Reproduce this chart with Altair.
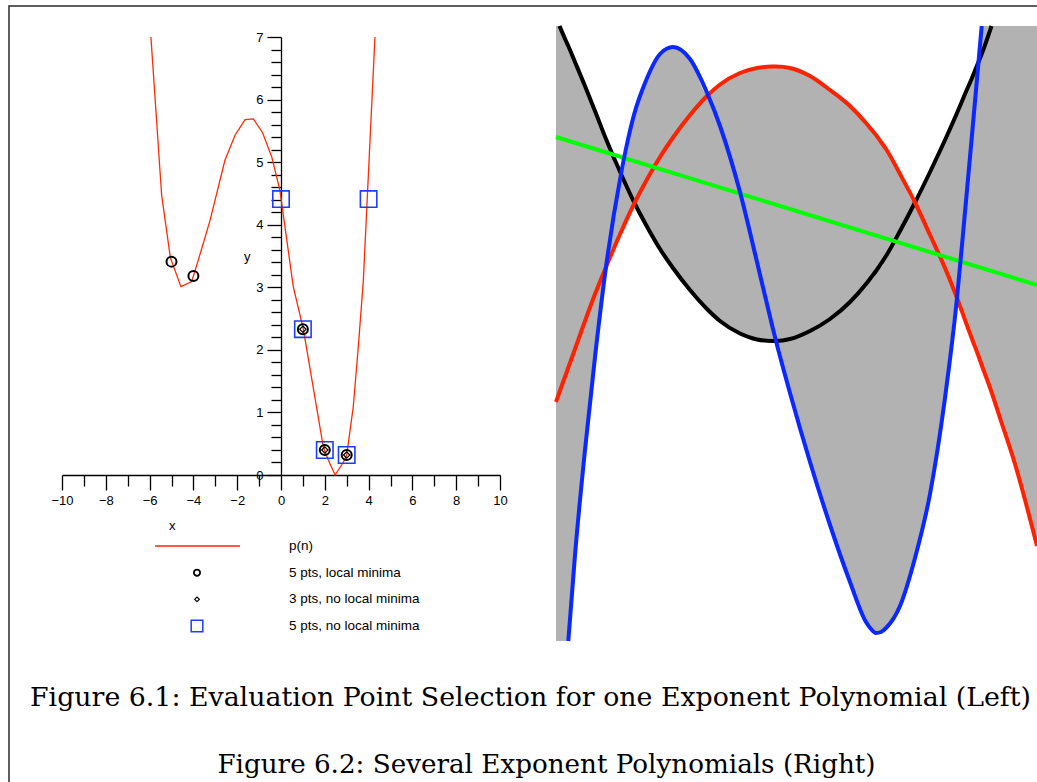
import altair as alt
import numpy as np
import pandas as pd

# ---------------- left panel: p(n) with the three evaluation-point sets ----------------
pn_x = [-5.94, -5.45, -5.05, -4.84, -4.57, -4.08, -3.78, -3.24, -2.56, -2.10, -1.64,
        -1.26, -0.84, -0.42, -0.05, 0.56, 1.02, 1.93, 2.16, 2.47, 2.84, 3.0, 3.30,
        3.53, 3.76, 4.29]
pn_y = [7.0, 4.47, 3.47, 3.27, 3.01, 3.09, 3.43, 4.07, 5.03, 5.43, 5.68,
        5.69, 5.47, 5.08, 4.55, 3.01, 2.33, 0.45, 0.24, 0.0, 0.20, 0.32, 1.09,
        2.05, 3.11, 7.0]

locmin_x = [-5, -4, 1, 2, 3]            # 5 pts, local minima
locmin_y = [3.41, 3.18, 2.33, 0.40, 0.32]
three_x = [1, 2, 3]                     # 3 pts, no local minima
three_y = [2.33, 0.40, 0.32]
five_x = [0, 1, 2, 3, 4]                # 5 pts, no local minima
five_y = [4.41, 2.33, 0.40, 0.32, 4.41]

x_ticks = list(range(-10, 11))
y_ticks = [round(i * 0.2, 1) for i in range(36)]

legend_labels = ["p(n)", "5 pts, local minima", "3 pts, no local minima",
                 "5 pts, no local minima"]

captions = ["Figure 6.1: Evaluation Point Selection for one Exponent Polynomial (Left)",
            "Figure 6.2: Several Exponent Polynomials (Right)"]

# ---------------- right panel: several exponent polynomials ----------------
curve_x = [0.0, 0.35, 1.0, 1.23, 1.9, 2.9, 3.9, 5.0, 6.5, 7.85, 8.9, 10.4, 11.7, 13.4,
           15.2, 16.4, 18.4, 20.1, 21.6, 22.0, 23.4, 25.4, 27.4, 29.4, 31.0, 31.5,
           32.0, 32.5, 33.0, 34.4, 35.9, 37.4, 38.9, 40.1, 40.9, 41.6, 42.25, 42.57,
           43.55, 44.4, 45.9, 48.1]
black_y = [62.3, 61.5, 60.0, 59.5, 57.9, 55.5, 53.0, 50.2, 46.7, 43.8, 41.8, 39.2,
           37.3, 35.1, 33.1, 32.0, 30.75, 30.15, 30.0, 30.0, 30.2, 31.0, 32.2, 33.9,
           35.7, 36.35, 37.0, 37.75, 38.5, 41.0, 43.85, 46.9, 50.1, 52.8, 54.7, 56.3,
           57.9, 58.7, 61.5, 63.9, 68.6, 75.6]
red_y = [23.9, 24.9, 26.7, 27.35, 29.2, 32.0, 34.7, 37.4, 40.9, 43.8, 45.8, 48.4,
         50.35, 52.6, 54.6, 55.65, 56.8, 57.3, 57.45, 57.45, 57.3, 56.5, 55.1, 53.5,
         51.8, 51.2, 50.6, 49.9, 49.2, 46.7, 43.85, 40.6, 37.3, 34.3, 32.1, 30.2,
         28.5, 27.6, 24.9, 22.3, 17.7, 9.5]
blue_y = [-11.9, -7.4, -2.4, 0.0, 8.6, 19.1, 28.4, 37.4, 46.7, 52.8, 55.8, 58.7,
          59.4, 58.2, 54.6, 51.5, 44.9, 37.9, 31.6, 30.0, 24.8, 17.9, 11.6, 5.9,
          1.9, 1.2, 0.8, 0.9, 1.3, 3.5, 8.3, 14.7, 24.3, 34.3, 42.9, 50.6, 57.9,
          61.5, 72.1, 82.1, 100.1, 124.1]
green_x = [0.0, 48.1]
green_y = [50.4, 35.6]

R_TOP = 61.5
R_RIGHT = 48.1

FONT = "Liberation Sans"

# ---------------- left panel scales and axes ----------------
LX = alt.Scale(domain=[-10, 10], range=[62, 500], nice=False, zero=False)
LY = alt.Scale(domain=[0, 7], range=[475, 37], nice=False, zero=False)

axis_x = alt.Axis(
    orient="bottom", offset=-307, values=x_ticks,
    tickSize={"condition": {"test": "datum.value % 2 === 0", "value": 15}, "value": 11},
    labelExpr="datum.value % 2 === 0 ? datum.label : ''",
    labelPadding=4, labelFont=FONT, labelFontSize=13, labelColor="black",
    labelFlush=False, labelOverlap=False, labelBound=False,
    domainColor="black", domainWidth=1.3, tickColor="black", tickWidth=1.3,
    grid=False, title="x", titleFont=FONT, titleFontSize=13,
    titleFontWeight="normal", titleColor="black", titleX=171.7, titleY=50,
    titleBaseline="middle", titleAlign="center",
)
int_test = "abs(datum.value - round(datum.value)) < 0.001"
axis_y = alt.Axis(
    orient="left", offset=-281, values=y_ticks,
    tickSize={"condition": {"test": int_test, "value": 14}, "value": 10},
    labelExpr=f"{int_test} ? format(datum.value, '.0f') : ''",
    labelPadding=4, labelFont=FONT, labelFontSize=13, labelColor="black",
    labelFlush=False, labelOverlap=False, labelBound=False,
    domainColor="black", domainWidth=1.3, tickColor="black", tickWidth=1.3,
    grid=False, title="y", titleFont=FONT, titleFontSize=13,
    titleFontWeight="normal", titleColor="black", titleAngle=0,
    titleX=-34.3, titleY=256.7, titleBaseline="middle", titleAlign="center",
)


def lx():
    return alt.X("x:Q", scale=LX, axis=axis_x)


def ly():
    return alt.Y("y:Q", scale=LY, axis=axis_y)


pn_df = pd.DataFrame({"x": pn_x, "y": pn_y})
pn_line = alt.Chart(pn_df).mark_line(color="#ff2a00", strokeWidth=1.3).encode(
    x=lx(), y=ly())

sq = alt.Chart(pd.DataFrame({"x": five_x, "y": five_y})).mark_point(
    shape="square", filled=False, color="#1f3dff", size=270, strokeWidth=1.6,
    opacity=1).encode(x=lx(), y=ly())
circ = alt.Chart(pd.DataFrame({"x": locmin_x, "y": locmin_y})).mark_point(
    shape="circle", filled=False, color="black", size=100, strokeWidth=2,
    opacity=1).encode(x=lx(), y=ly())
diam = alt.Chart(pd.DataFrame({"x": three_x, "y": three_y})).mark_point(
    shape="diamond", filled=False, color="black", size=40, strokeWidth=1.2,
    opacity=1).encode(x=lx(), y=ly())

left = alt.layer(pn_line, sq, circ, diam)

# ---------------- legend below the left plot ----------------
leg_df = pd.DataFrame({"label": legend_labels})
leg_y = alt.Y("label:N", scale=alt.Scale(type="point", domain=legend_labels,
                                         range=[546, 626], padding=0), axis=None)
leg_text = alt.Chart(leg_df).mark_text(
    align="left", baseline="middle", font=FONT, fontSize=13.5, color="black").encode(
    text="label:N", x=alt.value(289), y=leg_y)
leg_line = alt.Chart(leg_df).transform_filter(
    alt.datum.label == legend_labels[0]).mark_rule(
    color="#ff2a00", strokeWidth=1.5).encode(x=alt.value(155), x2=alt.value(240), y=leg_y)
leg_circ = alt.Chart(leg_df).transform_filter(
    alt.datum.label == legend_labels[1]).mark_point(
    shape="circle", filled=False, color="black", size=38, strokeWidth=1.8,
    opacity=1).encode(x=alt.value(197), y=leg_y)
leg_diam = alt.Chart(leg_df).transform_filter(
    alt.datum.label == legend_labels[2]).mark_point(
    shape="diamond", filled=False, color="black", size=22, strokeWidth=1.2,
    opacity=1).encode(x=alt.value(197), y=leg_y)
leg_sq = alt.Chart(leg_df).transform_filter(
    alt.datum.label == legend_labels[3]).mark_point(
    shape="square", filled=False, color="#1f3dff", size=135, strokeWidth=1.5,
    opacity=1).encode(x=alt.value(197), y=leg_y)
legend = alt.layer(leg_line, leg_circ, leg_diam, leg_sq, leg_text)

# ---------------- right panel ----------------
RX = alt.Scale(domain=[0, R_RIGHT], range=[556, 1037], nice=False, zero=False)
RY = alt.Scale(domain=[0, R_TOP], range=[641, 26], nice=False, zero=False)

stack = np.array([black_y, red_y, blue_y])
# shaded region spans from the lowest to the highest curve, cut at the panel edges
band_df = pd.DataFrame({
    "x": curve_x,
    "hi": np.clip(stack.max(axis=0), 0, R_TOP),
    "lo": np.clip(stack.min(axis=0), 0, R_TOP),
})
band = alt.Chart(band_df).mark_area(
    color="#b2b2b2", opacity=1, interpolate="monotone").encode(
    x=alt.X("x:Q", scale=RX, axis=None),
    y=alt.Y("hi:Q", scale=RY, axis=None),
    y2="lo:Q")


def curve(ys, xs, color):
    df = pd.DataFrame({"x": xs, "y": ys})
    df = df[(df.y >= -0.01) & (df.y <= R_TOP + 0.01)]
    return alt.Chart(df).mark_line(
        color=color, strokeWidth=4, interpolate="monotone").encode(
        x=alt.X("x:Q", scale=RX, axis=None),
        y=alt.Y("y:Q", scale=RY, axis=None))


right = alt.layer(
    band,
    curve(black_y, curve_x, "black"),
    curve(red_y, curve_x, "#ff2200"),
    curve(green_y, green_x, "#00ff00"),
    curve(blue_y, curve_x, "#0a28ff"),
)

# ---------------- captions and page frame ----------------
cap1 = alt.Chart(pd.DataFrame({"t": [captions[0]]})).mark_text(
    font="DejaVu Serif", fontSize=26.8, align="center", baseline="alphabetic",
    color="black").encode(text="t:N", x=alt.value(530.5), y=alt.value(706))
cap2 = alt.Chart(pd.DataFrame({"t": [captions[1]]})).mark_text(
    font="DejaVu Serif", fontSize=26.2, align="center", baseline="alphabetic",
    color="black").encode(text="t:N", x=alt.value(546.5), y=alt.value(773))

frame = alt.Chart(pd.DataFrame({"k": [0]})).mark_rect(
    filled=False, stroke="#2a2a2a", strokeWidth=1.5).encode(
    x=alt.value(9), x2=alt.value(1100), y=alt.value(6), y2=alt.value(900))

chart = alt.layer(frame, right, left, legend, cap1, cap2).resolve_scale(
    x="independent", y="independent").properties(
    width=1037, height=782, autosize=alt.AutoSizeParams(type="none"),
    padding={"left": 0, "top": 0, "right": 0, "bottom": 0},
    background="white").configure_view(stroke=None)

chart.save("out.html", embed_options={"renderer": "svg", "actions": False})
